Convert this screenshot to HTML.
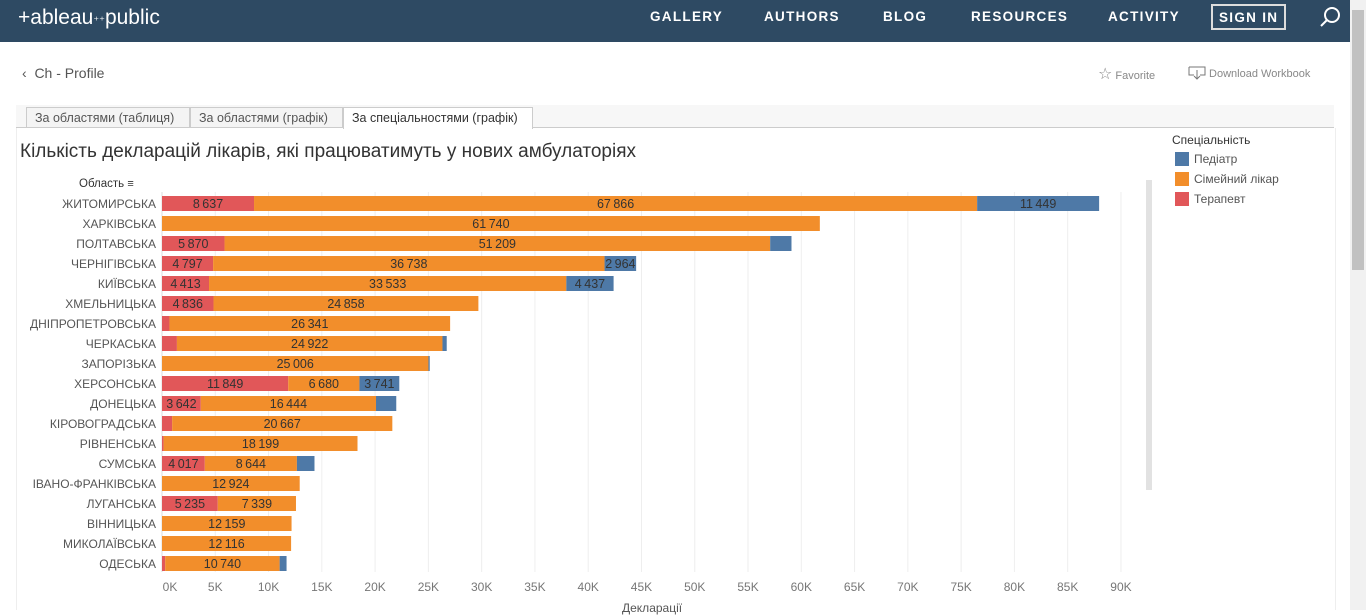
<!DOCTYPE html>
<html><head><meta charset="utf-8"><style>
body{margin:0;width:1366px;height:610px;overflow:hidden;background:#fff;font-family:"Liberation Sans","DejaVu Sans",sans-serif;position:relative}
.abs{position:absolute}
.nav{left:0;top:0;width:1350px;height:42px;background:#2e4a63}
.nav span{position:absolute;top:9px;color:#fff;font-weight:bold;font-size:13.5px;letter-spacing:1.3px}
.tab{position:absolute;top:107px;height:20px;border:1px solid #ccc;border-bottom:none;font-size:12.5px;color:#555;line-height:20px;padding:0 8px;background:#f4f4f4;box-sizing:border-box}
</style></head><body>
<div class="abs nav">
<div class="abs" style="left:18px;top:6px;color:#fff;font-size:21px">+ableau<span style="font-size:11px;position:static;letter-spacing:0;font-weight:normal">⁺⁺</span>public</div>
<span style="left:650px">GALLERY</span>
<span style="left:764px">AUTHORS</span>
<span style="left:883px">BLOG</span>
<span style="left:971px">RESOURCES</span>
<span style="left:1108px">ACTIVITY</span>
<span style="left:1211px;top:4px;border:2px solid #ddd;padding:4px 6px 3px">SIGN IN</span>
<svg class="abs" style="left:1318px;top:5px" width="24" height="24"><circle cx="14" cy="10" r="7" fill="none" stroke="#fff" stroke-width="2"/><line x1="9" y1="15" x2="3" y2="21" stroke="#fff" stroke-width="2"/></svg>
</div>
<div class="abs" style="left:1350px;top:0;width:16px;height:610px;background:#f1f1f1"><div style="position:absolute;left:2px;top:10px;width:12px;height:260px;background:#c1c1c1"></div></div>
<div class="abs" style="left:22px;top:65px;font-size:14px;color:#555">‹&nbsp; Ch - Profile</div>
<div class="abs" style="left:1098px;top:64px;font-size:11px;color:#888"><span style="font-size:16px">☆</span> Favorite</div>
<div class="abs" style="left:1188px;top:66px;font-size:11px;color:#888"><svg width="18" height="14" style="vertical-align:-3px"><path d="M1 1h16v8h-5M6 9H1V1" fill="none" stroke="#777"/><path d="M9 4v9M6 10l3 3 3-3" fill="none" stroke="#777"/></svg> Download Workbook</div>
<div class="abs" style="left:16px;top:105px;width:1318px;height:22px;background:#f7f7f7;border-bottom:1px solid #ccc"></div>
<div class="tab" style="left:26px;width:164px">За областями (таблиця)</div>
<div class="tab" style="left:190px;width:153px">За областями (графік)</div>
<div class="tab" style="left:343px;width:190px;height:22px;background:#fff;color:#333">За спеціальностями (графік)</div>
<div class="abs" style="left:16px;top:128px;width:1318px;height:482px;border-left:1px solid #eee;border-right:1px solid #eee"></div>
<div class="abs" style="left:20px;top:141px;font-size:19px;color:#333">Кількість декларацій лікарів, які працюватимуть у нових амбулаторіях</div>
<div class="abs" style="left:79px;top:178px;font-size:11.5px;color:#333">Область <span style="font-size:11px">≡</span></div>
<div class="abs" style="left:1146px;top:180px;width:6px;height:310px;background:#e2e2e2"></div>
<div class="abs" style="left:1172px;top:133px;font-size:12px;color:#333">Спеціальність</div>
<div id="legend"></div>
<svg id="chart" class="abs" style="left:0;top:0" width="1366" height="610"></svg>
<div class="abs" style="left:622px;top:601px;font-size:12px;color:#555">Декларації</div>
<script>
const regions=["ЖИТОМИРСЬКА","ХАРКІВСЬКА","ПОЛТАВСЬКА","ЧЕРНІГІВСЬКА","КИЇВСЬКА","ХМЕЛЬНИЦЬКА","ДНІПРОПЕТРОВСЬКА","ЧЕРКАСЬКА","ЗАПОРІЗЬКА","ХЕРСОНСЬКА","ДОНЕЦЬКА","КІРОВОГРАДСЬКА","РІВНЕНСЬКА","СУМСЬКА","ІВАНО-ФРАНКІВСЬКА","ЛУГАНСЬКА","ВІННИЦЬКА","МИКОЛАЇВСЬКА","ОДЕСЬКА"];
const therapist=[8637,0,5870,4797,4413,4836,700,1400,0,11849,3642,950,150,4017,0,5235,0,0,300];
const family=[67866,61740,51209,36738,33533,24858,26341,24922,25006,6680,16444,20667,18199,8644,12924,7339,12159,12116,10740];
const pediatr=[11449,0,2000,2964,4437,0,0,400,120,3741,1900,0,0,1650,0,0,0,0,650];
const showTher=[true,false,true,true,true,true,false,false,false,true,true,false,false,true,false,true,false,false,false];
const showPed=[true,false,false,true,true,false,false,false,false,true,false,false,false,false,false,false,false,false,false];
const ticks=[0,5000,10000,15000,20000,25000,30000,35000,40000,45000,50000,55000,60000,65000,70000,75000,80000,85000,90000];
const colors={ped:"#4e79a7",fam:"#f28e2b",ther:"#e15759"};
const legendItems=[["Педіатр",colors.ped],["Сімейний лікар",colors.fam],["Терапевт",colors.ther]];
const svg=document.getElementById('chart');const NS="http://www.w3.org/2000/svg";
const x=v=>162+v*0.010655;const y=i=>196+i*20;
function fmt(n){return String(n).replace(/\B(?=(\d{3})+(?!\d))/g,"\u2009")}
function mk(t,a){const e=document.createElementNS(NS,t);for(const k in a)e.setAttribute(k,a[k]);svg.appendChild(e);return e}
ticks.forEach(t=>{const g=mk('line',{x1:x(t),x2:x(t),y1:192,y2:572,stroke:'#eee'});


const l=mk('text',{x:x(t)+(t==0?8:0),y:591,'text-anchor':'middle','font-size':12,fill:'#777','font-family':'Liberation Sans'});l.textContent=t/1000+'K';

});
mk('line',{x1:162,x2:162,y1:192,y2:572,stroke:'#ddd'});
regions.forEach((r,i)=>{
const lb=mk('text',{x:156,y:y(i)+12,'text-anchor':'end','font-size':12,fill:'#555','font-family':'Liberation Sans'});lb.textContent=r;


const segs=[[therapist[i],colors.ther,showTher[i]],[family[i],colors.fam,true],[pediatr[i],colors.ped,showPed[i]]];
let acc=0;segs.forEach((s,j)=>{if(s[0]<=0)return;
const b=mk('rect',{x:x(acc),y:y(i),width:x(acc+s[0])-x(acc),height:15,fill:s[1]});


if(s[2]){const t=mk('text',{x:(x(acc)+x(acc+s[0]))/2,y:y(i)+12,'text-anchor':'middle','font-size':12.5,fill:'#333','font-family':'Liberation Sans'});t.textContent=fmt(s[0]);

}
acc+=s[0];});
});
const lg=document.getElementById('legend');
legendItems.forEach((it,i)=>{const d=document.createElement('div');d.className='abs';d.style.cssText=`left:1175px;top:${152+i*20}px;font-size:12px;color:#555`;
d.innerHTML=`<span style="display:inline-block;width:14px;height:14px;background:${it[1]};vertical-align:-3px;margin-right:5px"></span>${it[0]}`;


lg.appendChild(d);});
</script>
</body></html>
